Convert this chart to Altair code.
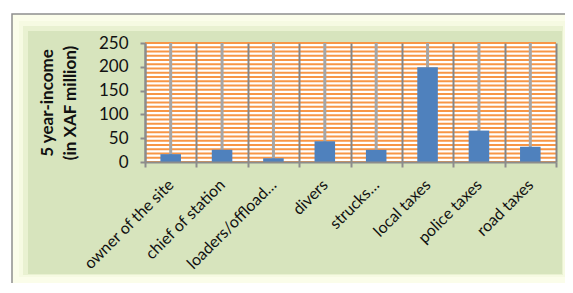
import altair as alt
import pandas as pd
import numpy as np

categories = ["owner of the site", "chief of station", "loaders/offload…", "divers",
              "strucks…", "local taxes", "police taxes", "road taxes"]
values = [16.5, 25.5, 8, 43.5, 25.5, 199, 66, 32]
y_ticks = [0, 50, 100, 150, 200, 250]

df = pd.DataFrame({"cat": categories, "val": values})
stripes = pd.DataFrame({"s": np.linspace(0, 250, 29)})
one = pd.DataFrame({"a": [0]})

W, H = 411, 119
xs = alt.Scale(paddingInner=0, paddingOuter=0)
ys = alt.Scale(domain=[0, 250], nice=False, zero=True)
ytitle = ["5 year-income", "(in XAF million)"]

xaxis = alt.Axis(labelAngle=-45, labelAlign="right", labelBaseline="middle",
                 labelFontSize=16, labelFont="Lato", labelColor="#111",
                 labelPadding=15, tickBand="extent", grid=True,
                 gridColor="#868686", gridWidth=2,
                 domainColor="#8c8c8c", domainWidth=2,
                 tickColor="#8c8c8c", tickWidth=2, tickSize=5, zindex=1)
yaxis = alt.Axis(values=y_ticks, grid=False, labelFontSize=17, labelFont="Lato",
                 labelColor="#111", labelPadding=12,
                 domainColor="#8c8c8c", domainWidth=2,
                 tickColor="#8c8c8c", tickWidth=2, tickSize=5,
                 titleFont="Lato", titleFontSize=17, titleFontWeight="bold",
                 titleColor="#111", titleLineHeight=23, titleAngle=-90,
                 titleX=-98, titleY=H / 2, titleAlign="center",
                 titleBaseline="middle", zindex=1)

def box(x1, x2, y1, y2, fill, stroke=None, sw=0):
    kw = dict(fill=fill)
    if stroke:
        kw.update(stroke=stroke, strokeWidth=sw)
    return alt.Chart(one).mark_rect(**kw).encode(
        x=alt.value(x1), x2=alt.value(x2), y=alt.value(y1), y2=alt.value(y2))

outer = box(-133, 428, -29, 248, "#fbfdea", "#8f8f8f", 1.5)
g1 = box(-126, 420, -22, 234, "#f6fae2")
g2 = box(-122, 418, -17, 232, "#e9f1d1")
g3 = box(-117, 417, -12, 231, "#d7e4bd")
plotbg = box(0, W, 0, H, "#ffffff")

stripe_layer = alt.Chart(stripes).mark_rule(color="#f79646", strokeWidth=2).encode(
    y=alt.Y("s:Q", scale=ys, axis=yaxis, title=ytitle),
    x=alt.value(0), x2=alt.value(W))

center_rules = alt.Chart(df).mark_rule(color="#a6a6a6", strokeWidth=3).encode(
    x=alt.X("cat:N", sort=categories, scale=xs, axis=xaxis, title=None),
    y=alt.value(0), y2=alt.value(H))

bars = alt.Chart(df).mark_bar(color="#4f81bd", width=alt.RelativeBandSize(0.4)).encode(
    x=alt.X("cat:N", sort=categories, scale=xs, title=None, axis=xaxis),
    y=alt.Y("val:Q", scale=ys, title=ytitle, axis=yaxis),
)

chart = alt.layer(outer, g1, g2, g3, plotbg, stripe_layer, center_rules, bars).properties(
    width=W, height=H,
    autosize=alt.AutoSizeParams(type="none"),
    padding={"left": 137, "top": 35, "right": 9, "bottom": 121},
    background="#ffffff",
).configure_view(stroke="transparent")

chart.save("out.html", embed_options={"renderer": "svg", "actions": False})
